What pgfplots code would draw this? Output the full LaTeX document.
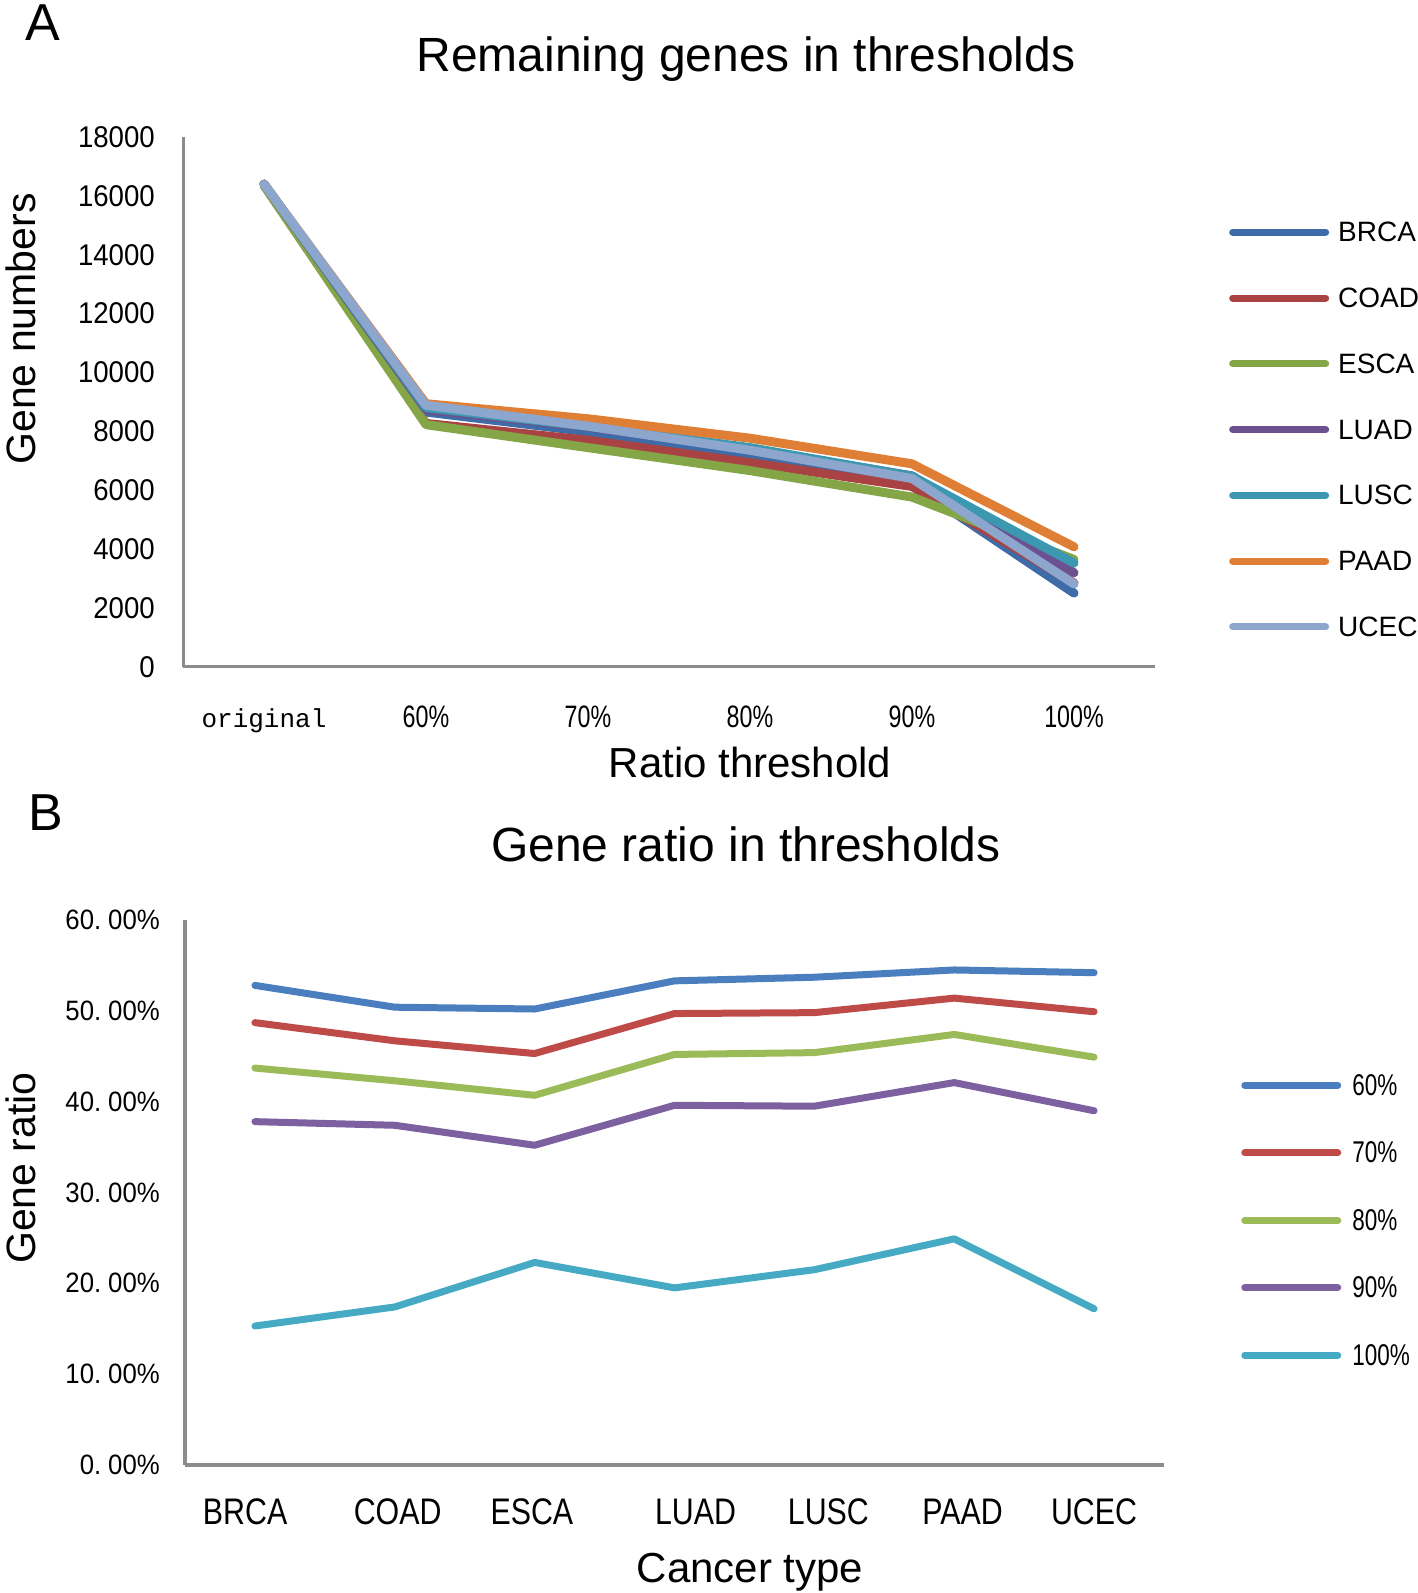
\documentclass[border=0pt]{standalone}
\usepackage{fontspec}
\setmainfont{Liberation Sans}
\setmonofont{Liberation Mono}
\newfontfamily\narrowA[FakeStretch=0.75]{Liberation Sans}
\newfontfamily\narrowB[FakeStretch=0.82]{Liberation Sans}
\newfontfamily\tickfont[FakeStretch=0.92]{Liberation Sans}
\usepackage{pgfplots}
\pgfplotsset{compat=1.18}
\newcommand{\fs}[1]{\fontsize{#1bp}{#1bp}\selectfont}
\newcommand{\pct}[2]{#1.\hspace{0.25em}#2\%}
\definecolor{axgray}{HTML}{8C8C8C}
\definecolor{a1}{HTML}{3E6CA8}
\definecolor{a2}{HTML}{A94343}
\definecolor{a3}{HTML}{84A647}
\definecolor{a4}{HTML}{6B5190}
\definecolor{a5}{HTML}{3C97B1}
\definecolor{a6}{HTML}{DE7F35}
\definecolor{a7}{HTML}{8DA6CD}
\definecolor{b1}{HTML}{4A7EBE}
\definecolor{b2}{HTML}{BE4B48}
\definecolor{b3}{HTML}{9BBB59}
\definecolor{b4}{HTML}{7D60A0}
\definecolor{b5}{HTML}{46AAC5}

\pgfplotstableread{
x BRCA COAD ESCA LUAD LUSC PAAD UCEC
0 16400 16400 16350 16400 16400 16400 16400
1 8660 8270 8230 8740 8810 8940 8890
2 7990 7700 7450 8150 8170 8430 8180
3 7170 6940 6670 7410 7450 7770 7360
4 6200 6130 5770 6490 6480 6900 6400
5 2510 2850 3650 3200 3530 4080 2820
}\tableA

\pgfplotstableread{
x p60 p70 p80 p90 p100
0 52.8 48.7 43.7 37.8 15.3
1 50.4 46.7 42.3 37.4 17.4
2 50.2 45.3 40.7 35.2 22.3
3 53.3 49.7 45.2 39.6 19.5
4 53.7 49.8 45.4 39.5 21.5
5 54.5 51.4 47.4 42.1 24.9
6 54.2 49.9 44.9 39.0 17.2
}\tableB

\pgfplotsset{
  common/.style={
    scale only axis,
    axis x line*=bottom, axis y line*=left,
    axis line style={draw=axgray, line width=3bp},
    major tick length=0pt,
    tick style={draw=none},
    scaled ticks=false,
    clip=false,
    legend cell align=left,
  },
}

\begin{document}
\begin{tikzpicture}
\path[use as bounding box] (0,0) rectangle (1418bp,1593bp);
\node[anchor=base west, inner sep=0pt] at (25bp,1552bp) {\fs{52}A};
\node[anchor=base west, inner sep=0pt] at (28bp,762bp) {\fs{52}B};

\begin{axis}[common,
  at={(183bp,926bp)}, anchor=south west,
  width=972bp, height=530bp,
  xmin=-0.5, xmax=5.5, ymin=0, ymax=18000,
  xtick={0,1,2,3,4,5},
  xticklabels={{\ttfamily\fs{26}original},60\%,70\%,80\%,90\%,100\%},
  xticklabel style={anchor=base, inner sep=0pt, yshift=-61bp, font=\narrowA\fs{31}},
  ytick={0,2000,4000,6000,8000,10000,12000,14000,16000,18000},
  yticklabels={0,2000,4000,6000,8000,10000,12000,14000,16000,18000},
  yticklabel style={anchor=east, inner sep=0pt, xshift=-28bp, font=\tickfont\fs{30}},
  title={Remaining genes in thresholds},
  title style={at={(axis description cs:0.5792,1.1132)}, anchor=base, inner sep=0pt, font=\fs{48}},
  xlabel={Ratio threshold},
  xlabel style={at={(axis description cs:0.5833,-0.2094)}, anchor=base, inner sep=0pt, font=\fs{42}},
  ylabel={Gene numbers},
  every axis y label/.style={at={(axis description cs:-0.1517,0.6377)}, rotate=90, anchor=base, inner sep=0pt, font=\fs{41}},
  legend style={at={(axis description cs:1.0761,0.8396)}, anchor=north west, draw=none, fill=none,
    inner sep=0pt, row sep=44.7bp, column sep=0pt, font=\fs{28}, nodes={inner sep=0pt}},
  legend image code/.code={\draw[#1, line width=7bp, line cap=round] (3.5bp,0.6bp) -- (96.5bp,0.6bp); \path[draw=none] (0bp,-9.4bp) -- (109bp,10.6bp);},
  every axis plot/.append style={line width=9bp, line cap=round, line join=round},
]
\addplot[a1] table[x=x,y=BRCA] {\tableA};
\addplot[a2] table[x=x,y=COAD] {\tableA};
\addplot[a3] table[x=x,y=ESCA] {\tableA};
\addplot[a4] table[x=x,y=LUAD] {\tableA};
\addplot[a5] table[x=x,y=LUSC] {\tableA};
\addplot[a6] table[x=x,y=PAAD] {\tableA};
\addplot[a7] table[x=x,y=UCEC] {\tableA};
\legend{BRCA,COAD,ESCA,LUAD,LUSC,PAAD,UCEC}
\end{axis}

\begin{axis}[common,
  at={(185bp,128bp)}, anchor=south west,
  width=979bp, height=545bp,
  xmin=-0.5, xmax=6.5, ymin=0, ymax=60,
  xtick={-0.07,1.02,1.98,3.15,4.10,5.06,6.0},
  xticklabels={BRCA,COAD,ESCA,LUAD,LUSC,PAAD,UCEC},
  xticklabel style={anchor=base, inner sep=0pt, yshift=-59bp, font=\narrowB\fs{37}},
  ytick={0,10,20,30,40,50,60},
  yticklabels={\pct{0}{00},\pct{10}{00},\pct{20}{00},\pct{30}{00},\pct{40}{00},\pct{50}{00},\pct{60}{00}},
  yticklabel style={anchor=east, inner sep=0pt, xshift=-25bp, font=\tickfont\fs{28}},
  title={Gene ratio in thresholds},
  title style={at={(axis description cs:0.5730,1.0972)}, anchor=base, inner sep=0pt, font=\fs{48}},
  xlabel={Cancer type},
  xlabel style={at={(axis description cs:0.5771,-0.2165)}, anchor=base, inner sep=0pt, font=\fs{42}},
  ylabel={Gene ratio},
  every axis y label/.style={at={(axis description cs:-0.1527,0.5450)}, rotate=90, anchor=base, inner sep=0pt, font=\fs{41}},
  legend style={at={(axis description cs:1.0787,0.717)}, anchor=north west, draw=none, fill=none,
    inner sep=0pt, row sep=45.0bp, column sep=0pt, font=\narrowA\fs{30}, nodes={inner sep=0pt}},
  legend image code/.code={\draw[#1, line width=7bp, line cap=round] (3.5bp,0.25bp) -- (96.5bp,0.25bp); \path[draw=none] (0bp,-10.5bp) -- (111bp,11bp);},
  every axis plot/.append style={line width=7bp, line cap=round, line join=round},
]
\addplot[b1] table[x=x,y=p60] {\tableB};
\addplot[b2] table[x=x,y=p70] {\tableB};
\addplot[b3] table[x=x,y=p80] {\tableB};
\addplot[b4] table[x=x,y=p90] {\tableB};
\addplot[b5] table[x=x,y=p100] {\tableB};
\legend{60\%,70\%,80\%,90\%,100\%}
\end{axis}
\end{tikzpicture}
\end{document}
